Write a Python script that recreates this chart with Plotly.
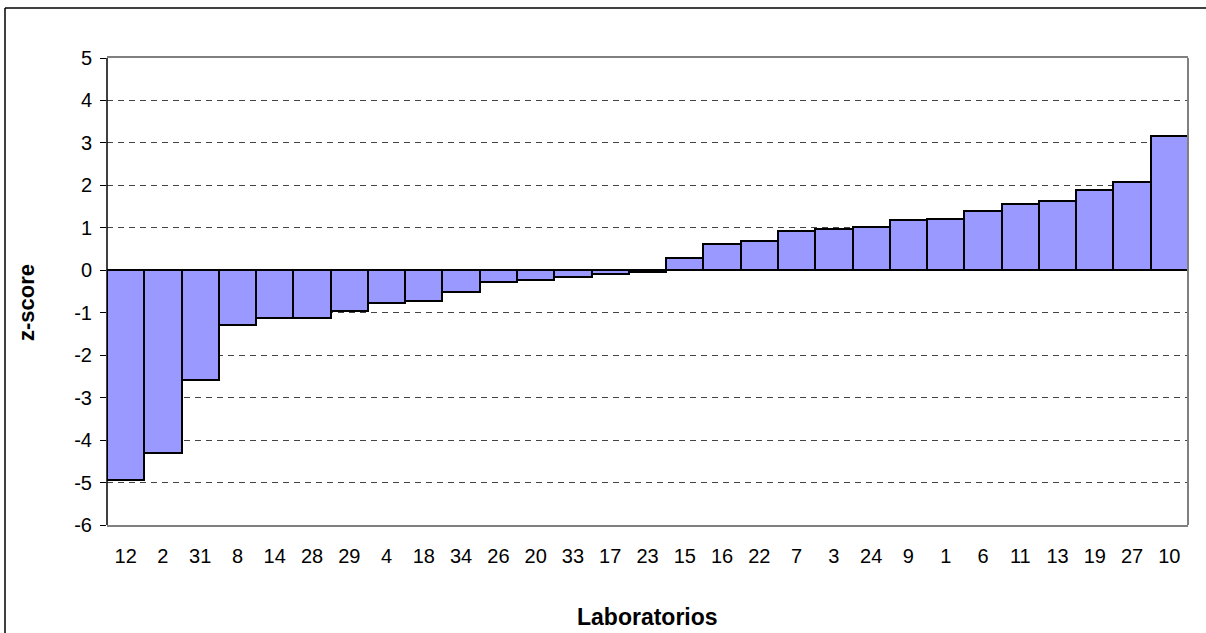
import plotly.graph_objects as go

laboratorios = ["12", "2", "31", "8", "14", "28", "29", "4", "18", "34", "26", "20", "33", "17", "23",
                "15", "16", "22", "7", "3", "24", "9", "1", "6", "11", "13", "19", "27", "10"]
z_scores = [-4.95, -4.31, -2.59, -1.29, -1.13, -1.13, -0.96, -0.78, -0.72, -0.51, -0.28, -0.22, -0.15,
            -0.09, -0.03, 0.29, 0.61, 0.70, 0.92, 0.97, 1.01, 1.18, 1.20, 1.39, 1.55, 1.64, 1.88, 2.07, 3.16]
y_ticks = [5, 4, 3, 2, 1, 0, -1, -2, -3, -4, -5, -6]
y_tick_labels = ["5", "4", "3", "2", "1", "0", "-1", "-2", "-3", "-4", "-5", "-6"]

W, H = 1206, 633
L, R, T, B = 107, 1188, 58, 525

fig = go.Figure()
fig.add_trace(go.Bar(
    x=laboratorios, y=z_scores,
    marker=dict(color="#9999FF", line=dict(color="black", width=2)),
))

FAM = "Liberation Sans, Arial, sans-serif"
font = dict(family=FAM, size=20, color="black")

fig.update_layout(
    width=W, height=H,
    margin=dict(l=L, r=W - R, t=T, b=H - B, autoexpand=False),
    paper_bgcolor="white", plot_bgcolor="white",
    bargap=0, showlegend=False, font=font,
    xaxis=dict(type="category", showgrid=False, zeroline=False, showline=True,
               linecolor="#808080", linewidth=2, mirror=True, ticks="",
               tickfont=font, ticklabelstandoff=12),
    yaxis=dict(range=[-6, 5], tickvals=y_ticks, ticktext=y_tick_labels, showgrid=True,
               gridcolor="#444444", griddash="6px,5px", gridwidth=1, zeroline=True,
               zerolinecolor="black", zerolinewidth=2, showline=False, ticks="outside",
               ticklen=6, tickcolor="black", tickwidth=1, tickfont=font,
               ticklabelstandoff=4),
    shapes=[
        dict(type="line", xref="paper", yref="paper", x0=1, x1=1, y0=0, y1=1,
             line=dict(color="#808080", width=2)),
        dict(type="line", xref="paper", yref="paper", x0=0, x1=0, y0=0, y1=1,
             line=dict(color="black", width=1.5)),
        dict(type="line", xref="paper", yref="paper",
             x0=(5 - L) / (R - L), x1=(W + 10 - L) / (R - L),
             y0=(B - 8) / (B - T), y1=(B - 8) / (B - T),
             line=dict(color="black", width=1.5)),
        dict(type="line", xref="paper", yref="paper",
             x0=(5 - L) / (R - L), x1=(5 - L) / (R - L),
             y0=(B - 8) / (B - T), y1=(B - H - 10) / (B - T),
             line=dict(color="black", width=1.5)),
    ],
    annotations=[
        dict(text="<b>z-score</b>", xref="paper", yref="paper",
             x=(26 - L) / (R - L), y=(B - 302) / (B - T), textangle=-90,
             xanchor="center", yanchor="middle",
             showarrow=False, font=dict(family=FAM, size=22, color="black")),
        dict(text="<b>Laboratorios</b>", xref="paper", yref="paper",
             x=(647 - L) / (R - L), y=(B - 617) / (B - T),
             xanchor="center", yanchor="middle",
             showarrow=False, font=dict(family=FAM, size=23, color="black")),
    ],
)

fig.write_html("out.html", config={"displayModeBar": False},
               post_script="document.body.style.margin='0';")
